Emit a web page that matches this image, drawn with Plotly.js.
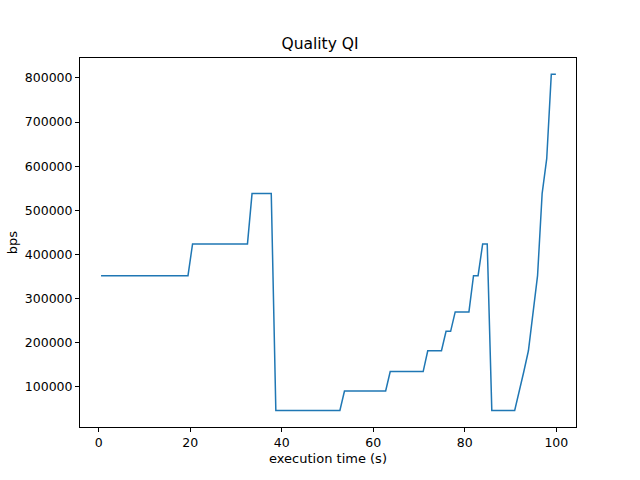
<!DOCTYPE html>
<html><head><script src="https://cdn.plot.ly/plotly-3.0.1.min.js"></script></head>
<body style="margin:0">
<div id="chart" style="width:640px;height:480px"></div>
<script>
// execution time (s) and bitrate (bps)
var times = [0.5, 19.5, 20.5, 32.5, 33.5, 37.7, 38.7, 52.7, 53.7, 62.7, 63.7, 70.9, 71.9, 74.9, 75.9, 76.9, 77.9, 80.9, 81.9, 82.9, 83.9, 84.9, 85.9, 90.9, 92.9, 93.9, 95.9, 96.9, 97.9, 98.9, 99.9];
var bps = [352000, 352000, 424000, 424000, 538000, 538000, 47000, 47000, 91000, 91000, 135000, 135000, 182000, 182000, 226000, 226000, 270000, 270000, 352000, 352000, 424000, 424000, 47000, 47000, 135000, 182000, 352000, 538000, 617000, 808000, 808000];

var trace = {
    x: times, y: bps, type: 'scatter', mode: 'lines',
    line: {color: '#1f77b4', width: 1.5}
};
var ax = {
    showgrid: false, zeroline: false, showline: true, mirror: true,
    linecolor: 'black', linewidth: 1, ticks: 'outside', ticklen: 4,
    tickcolor: 'black', tickfont: {size: 12.5}
};
var layout = {
    width: 640, height: 480,
    margin: {l: 80, r: 64, t: 58, b: 53},
    paper_bgcolor: 'white', plot_bgcolor: 'white',
    font: {family: 'DejaVu Sans', color: 'black'},
    showlegend: false,
    title: {text: 'Quality QI', font: {size: 15.5}, y: 0.91, yanchor: 'middle'},
    xaxis: Object.assign({}, ax, {range: [-4.1, 104.3], tickvals: [0, 20, 40, 60, 80, 100],
        title: {text: 'execution time (s)', font: {size: 13}, standoff: 4}}),
    yaxis: Object.assign({}, ax, {range: [9400, 845000], tickvals: [100000, 200000, 300000, 400000, 500000, 600000, 700000, 800000],
        tickformat: 'd', title: {text: 'bps', font: {size: 13}, standoff: 4}})
};
Plotly.newPlot('chart', [trace], layout, {staticPlot: true});
</script>
</body></html>
